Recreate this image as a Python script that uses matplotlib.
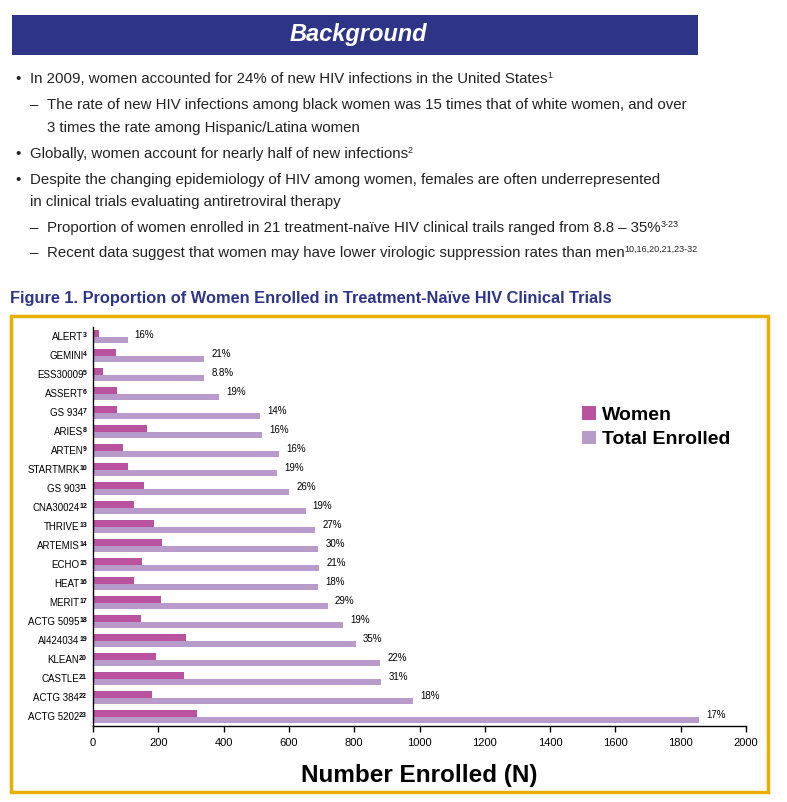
import matplotlib
matplotlib.use("Agg")
import matplotlib.pyplot as plt
from matplotlib.patches import Rectangle, Patch
from matplotlib.transforms import offset_copy

# ---------------- data ----------------
trial_names = ["ALERT", "GEMINI", "ESS30009", "ASSERT", "GS 934", "ARIES", "ARTEN",
               "STARTMRK", "GS 903", "CNA30024", "THRIVE", "ARTEMIS", "ECHO",
               "HEAT", "MERIT", "ACTG 5095", "AI424034", "KLEAN", "CASTLE",
               "ACTG 384", "ACTG 5202"]
trial_refs = ["3", "4", "5", "6", "7", "8", "9", "10", "11", "12", "13", "14", "15",
              "16", "17", "18", "19", "20", "21", "22", "23"]
women = [17, 71, 30, 74, 73, 166, 92, 107, 157, 126, 188, 212, 151, 126, 209, 148,
         286, 194, 280, 182, 317]
total = [106, 341, 341, 387, 513, 519, 571, 565, 601, 651, 681, 690, 693, 690, 720,
         767, 806, 880, 883, 981, 1857]
pct_labels = ["16%", "21%", "8.8%", "19%", "14%", "16%", "16%", "19%", "26%", "19%",
              "27%", "30%", "21%", "18%", "29%", "19%", "35%", "22%", "31%", "18%", "17%"]
xticks = [0, 200, 400, 600, 800, 1000, 1200, 1400, 1600, 1800, 2000]

bullet_texts = [
    "In 2009, women accounted for 24% of new HIV infections in the United States",
    "The rate of new HIV infections among black women was 15 times that of white women, and over",
    "3 times the rate among Hispanic/Latina women",
    "Globally, women account for nearly half of new infections",
    "Despite the changing epidemiology of HIV among women, females are often underrepresented",
    "in clinical trials evaluating antiretroviral therapy",
    "Proportion of women enrolled in 21 treatment-naïve HIV clinical trails ranged from 8.8 – 35%",
    "Recent data suggest that women may have lower virologic suppression rates than men",
]
bullet_sups = ["1", "", "", "2", "", "", "3-23", "10,16,20,21,23-32"]
bullet_syms = ["•", "–", "", "•", "•", "", "–", "–"]
bullet_levels = [0, 1, 1, 0, 0, 0, 1, 1]
bullet_y = [78, 104, 127, 153, 179, 201, 227, 252]

# ---------------- style ----------------
W, H = 787, 802
SANS = ["Liberation Sans", "DejaVu Sans"]
C_WOMEN = "#B9529F"
C_TOTAL = "#B99BCB"
NAVY = "#2E3588"
GOLD = "#E8AE00"
TXT = "#222222"

fig = plt.figure(figsize=(W / 100, H / 100), dpi=100)
fig.patch.set_facecolor("white")
renderer = fig.canvas.get_renderer()


def fx(x):
    return x / W


def fy(y):
    return 1 - y / H


# banner
fig.patches.append(Rectangle((fx(12), fy(55)), fx(698) - fx(12), (55 - 15) / H,
                             transform=fig.transFigure, facecolor=NAVY, edgecolor="none"))
fig.text(fx(358), fy(34), "Background", color="white", fontsize=17, fontweight="bold",
         fontstyle="italic", family=SANS, ha="center", va="center")

# bullets
for sym, txt, sup, lvl, y in zip(bullet_syms, bullet_texts, bullet_sups, bullet_levels, bullet_y):
    sx, tx = (15, 30) if lvl == 0 else (30, 47)
    base = y + 5
    if sym:
        fig.text(fx(sx), fy(base), sym, fontsize=10.8, family=SANS, color=TXT,
                 ha="left", va="baseline")
    t = fig.text(fx(tx), fy(base), txt, fontsize=10.8, family=SANS, color=TXT,
                 ha="left", va="baseline")
    if sup:
        ext = t.get_window_extent(renderer)
        fig.text((ext.x1 - 0.3) / W, fy(base - 5), sup, fontsize=6.5, family=SANS,
                 color=TXT, ha="left", va="baseline")

# figure title
fig.text(fx(10), fy(298), "Figure 1. Proportion of Women Enrolled in Treatment-Naïve HIV Clinical Trials",
         fontsize=11.8, fontweight="bold", family=SANS, color=NAVY, ha="left", va="center")

# gold frame
fig.patches.append(Rectangle((fx(11), fy(792)), fx(768) - fx(11), (792 - 316) / H,
                             transform=fig.transFigure, facecolor="none", edgecolor=GOLD,
                             linewidth=2.5))

# chart axes
ax = fig.add_axes([fx(93), fy(726), fx(746) - fx(93), (726 - 327) / H])
n = len(trial_names)
ypos = list(range(n))
bh = 0.32
ax.barh([y - bh / 2 for y in ypos], women, height=bh, color=C_WOMEN, label="Women")
ax.barh([y + bh / 2 for y in ypos], total, height=bh, color=C_TOTAL, label="Total Enrolled")
ax.set_ylim(n - 0.5, -0.5)
ax.set_xlim(0, 2000)
ax.set_yticks(ypos)
ax.tick_params(axis="y", length=0, labelleft=False)
ax.set_xticks(xticks)
ax.set_xticklabels([str(t) for t in xticks], family=SANS, fontsize=8)
ax.tick_params(axis="x", direction="out", length=4, width=1, pad=5)
for s in ["top", "right"]:
    ax.spines[s].set_visible(False)
for s in ["left", "bottom"]:
    ax.spines[s].set_linewidth(1)
    ax.spines[s].set_color("black")

# category labels with superscript reference numbers
ytr = ax.get_yaxis_transform()
for y, nm, r in zip(ypos, trial_names, trial_refs):
    st = ax.text(0, y, r, transform=offset_copy(ytr, fig, x=-6, y=-0.5, units="dots"),
                 fontsize=5, fontweight="bold", family=SANS, ha="right", va="baseline")
    w = st.get_window_extent(renderer).width
    ax.text(0, y, nm, transform=offset_copy(ytr, fig, x=-5.8 - w, y=-3.5, units="dots"),
            fontsize=7, family=SANS, ha="right", va="baseline")

for y, t, lab in zip(ypos, total, pct_labels):
    ax.annotate(lab, xy=(t, y - 0.08), xytext=(5, 0), textcoords="offset points",
                fontsize=7, family=SANS, ha="left", va="center", color="black")

ax.set_xlabel("Number Enrolled (N)", fontsize=17.5, fontweight="bold", family=SANS, labelpad=11)

handles = [Patch(facecolor=C_WOMEN, edgecolor="none", label="Women"),
           Patch(facecolor=C_TOTAL, edgecolor="none", label="Total Enrolled")]
ax.legend(handles=handles, loc="upper left", bbox_to_anchor=(0.722, 0.845), frameon=False,
          prop={"family": SANS, "size": 14, "weight": "bold"}, handlelength=0.7,
          handleheight=0.7, handletextpad=0.35, labelspacing=0.35)

fig.savefig("out.png", dpi=100)
